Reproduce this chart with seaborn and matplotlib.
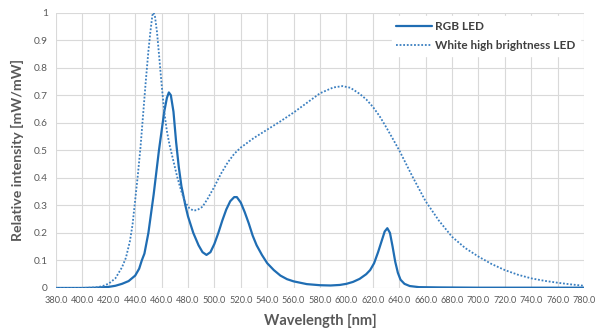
import numpy as np
import pandas as pd
import matplotlib
matplotlib.use("Agg")
import matplotlib.pyplot as plt
import seaborn as sns

# RGB LED spectrum (wavelength nm, relative intensity)
rgb_wl = [380, 400, 410, 420, 425, 430, 435, 440, 443, 445, 447, 450, 452, 454, 456, 458,
          460, 462, 464, 465.5, 467, 469, 471, 473, 475, 478, 480, 484, 488, 491, 494, 497,
          500, 503, 506, 509, 512, 515, 517, 520, 523, 526, 529, 532, 536, 540, 545, 550,
          555, 560, 570, 580, 588, 595, 600, 605, 610, 615, 618, 621, 624, 627, 629, 631,
          633, 635, 637, 639, 641, 644, 648, 655, 670, 700, 780]
rgb_val = [0, 0, 0.001, 0.004, 0.008, 0.015, 0.025, 0.045, 0.07, 0.1, 0.125, 0.2, 0.27, 0.34, 0.42, 0.5,
           0.57, 0.64, 0.69, 0.71, 0.70, 0.64, 0.53, 0.44, 0.37, 0.30, 0.26, 0.20, 0.155, 0.13, 0.12, 0.13,
           0.16, 0.20, 0.245, 0.285, 0.315, 0.33, 0.33, 0.31, 0.275, 0.235, 0.19, 0.155, 0.12, 0.09, 0.065, 0.045,
           0.032, 0.024, 0.014, 0.010, 0.009, 0.011, 0.015, 0.022, 0.033, 0.05, 0.065, 0.09, 0.13, 0.175, 0.205, 0.217,
           0.20, 0.15, 0.095, 0.055, 0.03, 0.015, 0.007, 0.003, 0.002, 0.001, 0.001]

# White high brightness LED spectrum
white_wl = [380, 400, 410, 415, 420, 425, 430, 433, 436, 438, 440, 442, 444, 446, 448, 450,
            451.5, 453, 454, 455, 456.5, 458, 460, 462, 464, 466, 469, 472, 475, 478, 481, 484,
            487, 491, 495, 500, 505, 510, 515, 520, 530, 540, 550, 560, 570, 580, 590, 597,
            603, 610, 615, 620, 625, 630, 635, 640, 650, 660, 670, 680, 690, 700, 710, 720,
            730, 740, 750, 760, 770, 780]
white_val = [0, 0, 0.002, 0.006, 0.016, 0.035, 0.075, 0.11, 0.17, 0.23, 0.32, 0.41, 0.51, 0.63, 0.75, 0.86,
             0.93, 0.99, 1.0, 0.985, 0.93, 0.85, 0.74, 0.64, 0.57, 0.52, 0.46, 0.40, 0.35, 0.31, 0.29, 0.281,
             0.283, 0.295, 0.325, 0.368, 0.415, 0.455, 0.487, 0.51, 0.545, 0.575, 0.605, 0.637, 0.672, 0.707, 0.728, 0.733,
             0.727, 0.705, 0.685, 0.658, 0.625, 0.585, 0.543, 0.50, 0.405, 0.315, 0.245, 0.186, 0.145, 0.114, 0.087, 0.065,
             0.048, 0.035, 0.026, 0.019, 0.013, 0.008]

series_names = ["RGB LED", "White high brightness LED"]
x_ticks = list(range(380, 781, 20))
y_ticks = [0, 0.1, 0.2, 0.3, 0.4, 0.5, 0.6, 0.7, 0.8, 0.9, 1]
y_tick_labels = ["0", "0.1", "0.2", "0.3", "0.4", "0.5", "0.6", "0.7", "0.8", "0.9", "1"]

sns.set_theme(style="white")
plt.rcParams["font.family"] = ["Lato", "DejaVu Sans"]

df_rgb = pd.DataFrame({"wl": rgb_wl, "val": rgb_val})
df_white = pd.DataFrame({"wl": white_wl, "val": white_val})

fig = plt.figure(figsize=(6.06, 3.31), dpi=100)
ax = fig.add_axes([0.0924, 0.13, 0.8713, 0.832])

blue = "#1f6db3"
sns.lineplot(data=df_rgb, x="wl", y="val", ax=ax, color=blue, linewidth=1.6,
             label=series_names[0], sort=False)
sns.lineplot(data=df_white, x="wl", y="val", ax=ax, color="#3a7fc0", linewidth=1.3,
             linestyle=(0, (1, 1)), label=series_names[1], sort=False)

ax.set_xlim(380, 780)
ax.set_ylim(0, 1)
ax.set_xticks(x_ticks)
ax.set_xticklabels([f"{v:.1f}" for v in x_ticks])
ax.set_yticks(y_ticks)
ax.set_yticklabels(y_tick_labels)
ax.grid(True, color="#d9d9d9", linewidth=0.8)
ax.set_axisbelow(True)
for s in ax.spines.values():
    s.set_visible(False)
ax.tick_params(axis="both", length=0, colors="#595959", pad=6)
ax.tick_params(axis="x", labelsize=6.6)
ax.tick_params(axis="y", labelsize=7.3)
ax.set_xlabel("Wavelength [nm]", fontsize=10.5, fontweight="bold", color="#595959", labelpad=6)
ax.set_ylabel("Relative intensity [mW/mW]", fontsize=10.2, fontweight="bold", color="#595959", labelpad=7)

leg = ax.legend(loc="upper right", bbox_to_anchor=(1.0, 1.0), frameon=True, fontsize=8.5,
                handlelength=3.0, handletextpad=0.3, borderaxespad=0.3, labelspacing=0.7)
leg.get_frame().set_facecolor("white")
leg.get_frame().set_edgecolor("white")
leg.get_frame().set_alpha(1.0)
for t in leg.get_texts():
    t.set_color("#404040")
    t.set_fontweight("bold")

fig.savefig("out.png", dpi=100)
